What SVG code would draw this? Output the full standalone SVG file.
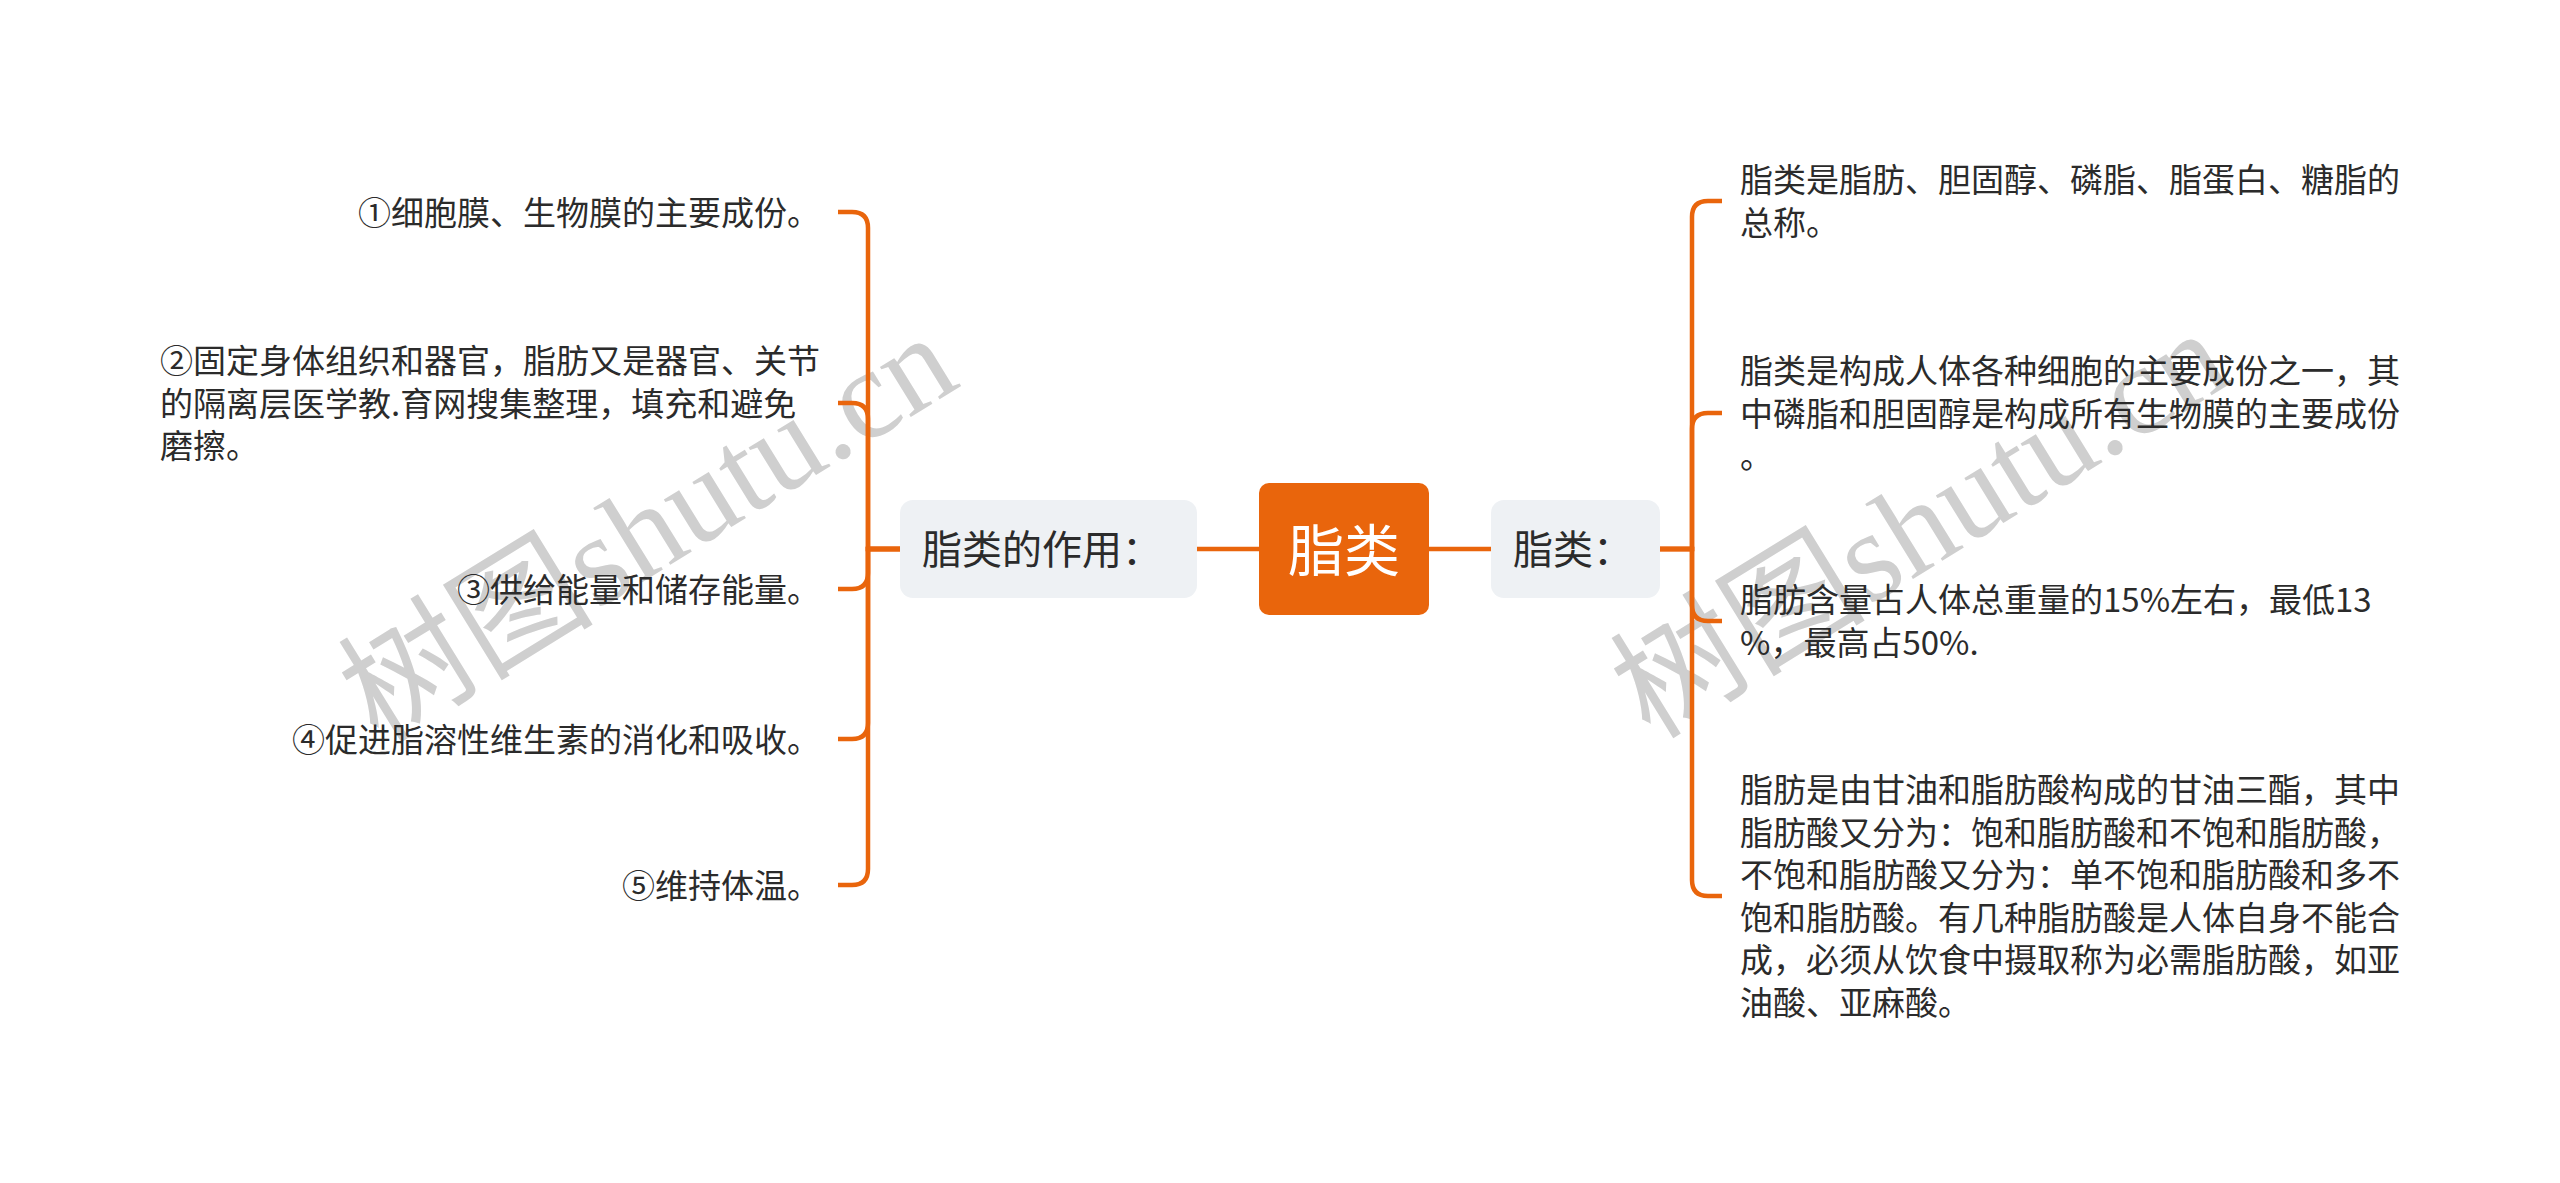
<svg xmlns="http://www.w3.org/2000/svg" width="2560" height="1183" viewBox="0 0 2560 1183">
  <style>
    .wm { font-family: "Liberation Serif", "Noto Sans CJK SC", serif; font-size: 128px; fill: #cfcfcf; }
    .conn { fill: none; stroke: #E9650C; stroke-width: 4.5; }
    .leaf { font-family: "Noto Sans CJK SC", "Noto Sans", sans-serif; font-size: 33px; fill: #2b2b2b; }
    .sub { font-family: "Noto Sans CJK SC", "Noto Sans", sans-serif; font-size: 40px; fill: #2b2b2b; }
    .subbox { fill: #EEF1F4; }
    .root { font-family: "Noto Sans CJK SC", "Noto Sans", sans-serif; font-size: 56px; fill: #ffffff; }
  </style>
  <rect width="2560" height="1183" fill="#ffffff"/>

  <g id="watermarks">
    <text class="wm" x="648" y="528" text-anchor="middle" dominant-baseline="central" transform="rotate(-31.6 648 528)">树图shutu.cn</text>
    <text class="wm" x="1920" y="524" text-anchor="middle" dominant-baseline="central" transform="rotate(-31.6 1920 524)">树图shutu.cn</text>
  </g>

  <g id="connectors">
    <path class="conn" d="M1259 549 H1197"/>
    <path class="conn" d="M1429 549 H1491"/>
    <!-- left -->
    <path class="conn" d="M900 549 H868 V228 Q868 212 852 212 H838"/>
    <path class="conn" d="M900 549 H868 V419 Q868 403 852 403 H838"/>
    <path class="conn" d="M900 549 H868 V573 Q868 589 852 589 H838"/>
    <path class="conn" d="M900 549 H868 V723 Q868 739 852 739 H838"/>
    <path class="conn" d="M900 549 H868 V869 Q868 885 852 885 H838"/>
    <!-- right -->
    <path class="conn" d="M1660 549 H1692 V217 Q1692 201 1708 201 H1722"/>
    <path class="conn" d="M1660 549 H1692 V429 Q1692 413 1708 413 H1722"/>
    <path class="conn" d="M1660 549 H1692 V605 Q1692 621 1708 621 H1722"/>
    <path class="conn" d="M1660 549 H1692 V880 Q1692 896 1708 896 H1722"/>
  </g>

  <g id="root">
    <rect x="1259" y="483" width="170" height="132" rx="10" fill="#E9650C"/>
    <text class="root" x="1344" y="571" text-anchor="middle">脂类</text>
  </g>

  <g id="left-main">
    <rect class="subbox" x="900" y="500" width="297" height="98" rx="13"/>
    <text class="sub" x="922" y="564">脂类的作用：</text>
  </g>

  <g id="right-main">
    <rect class="subbox" x="1491" y="500" width="169" height="98" rx="13"/>
    <text class="sub" x="1513" y="564">脂类：</text>
  </g>

  <g id="left-1">
    <text class="leaf" x="820" y="224.5" text-anchor="end">①细胞膜、生物膜的主要成份。</text>
  </g>
  <g id="left-2">
    <text class="leaf" x="160" y="373">②固定身体组织和器官，脂肪又是器官、关节</text>
    <text class="leaf" x="160" y="415.5">的隔离层医学教.育网搜集整理，填充和避免</text>
    <text class="leaf" x="160" y="458">磨擦。</text>
  </g>
  <g id="left-3">
    <text class="leaf" x="820" y="601.5" text-anchor="end">③供给能量和储存能量。</text>
  </g>
  <g id="left-4">
    <text class="leaf" x="820" y="751.5" text-anchor="end">④促进脂溶性维生素的消化和吸收。</text>
  </g>
  <g id="left-5">
    <text class="leaf" x="820" y="897.5" text-anchor="end">⑤维持体温。</text>
  </g>

  <g id="right-1">
    <text class="leaf" x="1740" y="192.25">脂类是脂肪、胆固醇、磷脂、脂蛋白、糖脂的</text>
    <text class="leaf" x="1740" y="234.75">总称。</text>
  </g>
  <g id="right-2">
    <text class="leaf" x="1740" y="383">脂类是构成人体各种细胞的主要成份之一，其</text>
    <text class="leaf" x="1740" y="425.5">中磷脂和胆固醇是构成所有生物膜的主要成份</text>
    <text class="leaf" x="1740" y="468">。</text>
  </g>
  <g id="right-3">
    <text class="leaf" x="1740" y="612.25">脂肪含量占人体总重量的15%左右，最低13</text>
    <text class="leaf" x="1740" y="654.75">%，最高占50%.</text>
  </g>
  <g id="right-4">
    <text class="leaf" x="1740" y="802.25">脂肪是由甘油和脂肪酸构成的甘油三酯，其中</text>
    <text class="leaf" x="1740" y="844.75">脂肪酸又分为：饱和脂肪酸和不饱和脂肪酸，</text>
    <text class="leaf" x="1740" y="887.25">不饱和脂肪酸又分为：单不饱和脂肪酸和多不</text>
    <text class="leaf" x="1740" y="929.75">饱和脂肪酸。有几种脂肪酸是人体自身不能合</text>
    <text class="leaf" x="1740" y="972.25">成，必须从饮食中摄取称为必需脂肪酸，如亚</text>
    <text class="leaf" x="1740" y="1014.75">油酸、亚麻酸。</text>
  </g>
</svg>
